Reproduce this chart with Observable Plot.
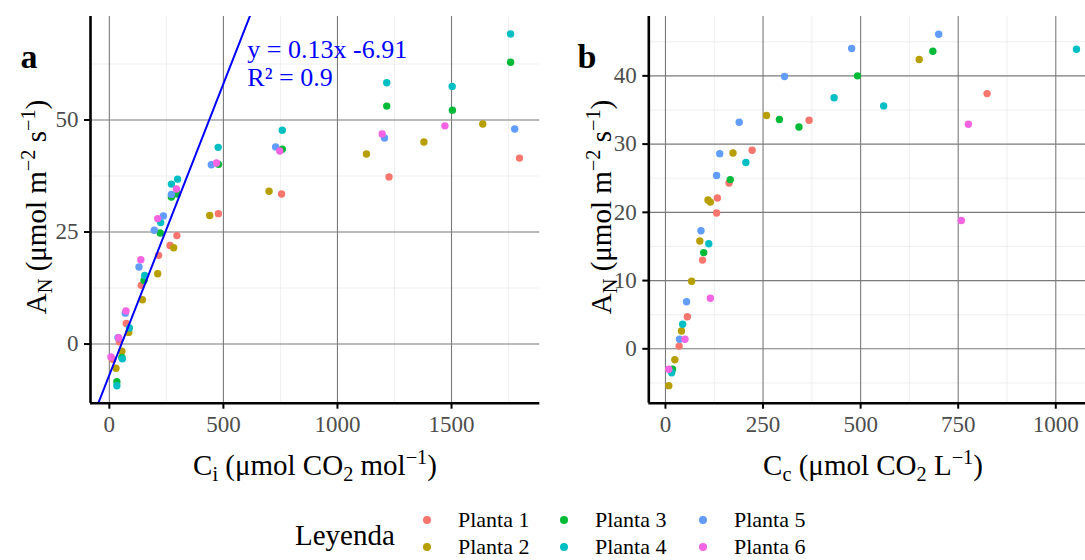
<!DOCTYPE html>
<html><head><meta charset="utf-8">
<script src="https://cdn.jsdelivr.net/npm/d3@7"></script>
<script src="https://cdn.jsdelivr.net/npm/@observablehq/plot@0.6"></script>
<style>
html,body{margin:0;padding:0;background:#fff;}
body{width:1085px;height:560px;overflow:hidden;position:relative;font-family:"Liberation Serif","Times New Roman",serif;color:#000;}
.abs{position:absolute;white-space:nowrap;line-height:1;}
.panel{position:absolute;top:0;}
g[aria-label$="tick label"], g[aria-label$="tick label"] text{fill:#4d4d4d;}
sub,sup{font-size:70%;line-height:0;}
</style>
</head><body>
<script>
// ---- data ----
const plants = ["Planta 1","Planta 2","Planta 3","Planta 4","Planta 5","Planta 6"];
const colors = ["#F8766D","#B79F00","#00BA38","#00BFC4","#619CFF","#F564E3"];

// Panel a: Ci vs AN
const aPlant = [
 1,1,1,1,1,1,1,1,1,1,1,
 2,2,2,2,2,2,2,2,2,2,2,
 3,3,3,3,3,3,3,3,3,3,3,
 4,4,4,4,4,4,4,4,4,4,4,4,
 5,5,5,5,5,5,5,5,5,5,
 6,6,6,6,6,6,6,6,6,6];
const aCi = [
 15,44,74,140,216,266,296,478,755,1226,1798,
 29,55,85,145,212,282,440,700,1127,1379,1637,
 33,55,152,223,272,298,479,758,1216,1504,1759,
 33,57,88,155,225,272,299,477,758,1216,1503,1759,
 38,70,130,197,237,272,447,729,1206,1777,
 7,41,73,138,212,294,470,747,1196,1471];
const aAN = [
 -3.4,0.5,4.6,13.1,19.8,22.0,24.2,29.1,33.5,37.3,41.5,
 -5.4,-1.6,2.6,9.9,15.7,21.5,28.7,34.1,42.4,45.1,49.1,
 -8.4,-3.0,14.2,24.8,32.8,33.5,40.1,43.5,53.1,52.2,62.9,
 -9.3,-3.3,3.6,15.3,27.1,35.7,36.8,43.9,47.7,58.3,57.5,69.2,
 1.4,6.9,17.2,25.4,28.6,33.4,40.0,44.0,46.0,48.0,
 -2.9,1.4,7.4,18.8,28.0,34.6,40.4,43.1,46.9,48.7];

// Panel b: Cc vs AN
const bPlant = [
 1,1,1,1,1,1,1,1,1,
 2,2,2,2,2,2,2,2,2,2,
 3,3,3,3,3,3,3,
 4,4,4,4,4,4,4,
 5,5,5,5,5,5,5,5,5,
 6,6,6,6,6];
const bCc = [
 35,56,95,131,133,163,222,368,824,
 8.5,24,41,67,88,109,115,173,259,650,
 18,98,166,292,342,492,685,
 16,44,111,206,432,559,1053,
 36,54,91,131,139,189,305,477,700,
 8.5,50,115,758,776];
const bAN = [
 0.4,4.7,13.0,19.9,22.1,24.3,29.1,33.5,37.4,
 -5.4,-1.6,2.6,9.9,15.8,21.8,21.5,28.7,34.2,42.4,
 -3.0,14.1,24.8,33.6,32.5,40.0,43.6,
 -3.5,3.6,15.4,27.3,36.8,35.6,43.9,
 1.4,6.9,17.3,25.4,28.6,33.2,39.9,44.0,46.1,
 -3.0,1.4,7.4,18.8,32.9];

// regression (panel a)
const regSlope = 0.13, regIntercept = -6.91;
const regLabels = ["y = 0.13x -6.91", "R\u00B2 = 0.9"];

// ticks
const aXTicks = [0,500,1000,1500], aXMinor = [250,750,1250,1750];
const aYTicks = [0,25,50], aYMinor = [12.5,37.5,62.5];
const bXTicks = [0,250,500,750,1000], bXMinor = [125,375,625,875];
const bYTicks = [0,10,20,30,40], bYMinor = [-5,5,15,25,35,45];

const aXDomain = [-82.6,1887], aYDomain = [-13.2,73.1];
const bXDomain = [-42.7,1112], bYDomain = [-7.97,48.7];

// ---- build ----
const aData = aPlant.map((p,i)=>({plant:plants[p-1], x:aCi[i], y:aAN[i]}));
const bData = bPlant.map((p,i)=>({plant:plants[p-1], x:bCc[i], y:bAN[i]}));

function panel({data, xDomain, yDomain, xTicks, xMinor, yTicks, yMinor, width, ml, mr, extra=[]}) {
  return Plot.plot({
    width, height: 440,
    marginLeft: ml, marginRight: mr, marginTop: 16, marginBottom: 37.3,
    style: {fontFamily: '"Liberation Serif","Times New Roman",serif', fontSize: "23px", background: "transparent", overflow: "visible"},
    x: {domain: xDomain, label: null},
    y: {domain: yDomain, label: null},
    color: {domain: plants, range: colors},
    marks: [
      Plot.ruleX(xMinor, {stroke: "#ebebeb", strokeWidth: 0.8}),
      Plot.ruleY(yMinor, {stroke: "#ebebeb", strokeWidth: 0.8}),
      Plot.ruleX(xTicks, {stroke: "#7a7a7a", strokeWidth: 1.1}),
      Plot.ruleY(yTicks, {stroke: "#7a7a7a", strokeWidth: 1.1}),
      Plot.dot(data, {x: "x", y: "y", fill: "plant", r: 3.7, stroke: "none"}),
      ...extra,
      Plot.ruleX([xDomain[0]], {stroke: "black", strokeWidth: 2.6}),
      Plot.ruleY([yDomain[0]], {stroke: "black", strokeWidth: 2.6}),
      Plot.axisX({ticks: xTicks, tickSize: 6, tickPadding: 6, stroke: "black", strokeWidth: 2, label: null, tickFormat: d => String(d)}),
      Plot.axisY({ticks: yTicks, tickSize: 6, tickPadding: 6, stroke: "black", strokeWidth: 2, label: null, tickFormat: d => String(d)})
    ]
  });
}

const regPts = aXDomain.map(x => ({x, y: regSlope*x + regIntercept}));
const pa = panel({data: aData, xDomain: aXDomain, yDomain: aYDomain, xTicks: aXTicks, xMinor: aXMinor, yTicks: aYTicks, yMinor: aYMinor,
  width: 545, ml: 90, mr: 5.7,
  extra: [
    Plot.line(regPts, {x: "x", y: "y", stroke: "#0000ff", strokeWidth: 2, clip: true}),
    Plot.text([0,1], {x: () => 605, y: i => i === 0 ? 65.7 : 59.4, text: i => regLabels[i], fill: "#0000ff", fontSize: 26, textAnchor: "start", lineAnchor: "middle"})
  ]});
pa.classList.add("panel"); pa.style.left = "0px";
document.body.appendChild(pa);

const pb = panel({data: bData, xDomain: bXDomain, yDomain: bYDomain, xTicks: bXTicks, xMinor: bXMinor, yTicks: bYTicks, yMinor: bYMinor,
  width: 545, ml: 88.3, mr: 6});
pb.classList.add("panel"); pb.style.left = "560px";
document.body.appendChild(pb);

// ---- text overlays ----
function addText(html, left, top, css) {
  const d = document.createElement("div");
  d.className = "abs";
  d.innerHTML = html;
  d.style.left = left + "px"; d.style.top = top + "px";
  Object.assign(d.style, css || {});
  document.body.appendChild(d);
  return d;
}
const ylab = 'A<sub>N</sub> (μmol m<sup>−2</sup> s<sup>−1</sup>)';
addText(ylab, 36, 207, {fontSize: "29px", transform: "translate(-50%,-50%) rotate(-90deg)"});
addText(ylab, 601, 207, {fontSize: "29px", transform: "translate(-50%,-50%) rotate(-90deg)"});
addText('C<sub>i</sub> (μmol CO<sub>2</sub> mol<sup>−1</sup>)', 315, 465, {fontSize: "29px", transform: "translate(-50%,-50%)"});
addText('C<sub>c</sub> (μmol CO<sub>2</sub> L<sup>−1</sup>)', 873, 465, {fontSize: "29px", transform: "translate(-50%,-50%)"});
addText('a', 29, 57, {fontSize: "34px", fontWeight: "bold", transform: "translate(-50%,-50%)"});
addText('b', 587, 57, {fontSize: "34px", fontWeight: "bold", transform: "translate(-50%,-50%)"});

// legend
addText('Leyenda', 295, 535, {fontSize: "29px", transform: "translateY(-50%)"});
const colX = [427, 564, 703], rowY = [520, 547];
plants.forEach((p, i) => {
  const c = Math.floor(i/2), r = i % 2;
  const dot = document.createElement("div");
  dot.className = "abs";
  Object.assign(dot.style, {left: (colX[c]-4)+"px", top: (rowY[r]-4)+"px", width: "8px", height: "8px", borderRadius: "50%", background: colors[i]});
  document.body.appendChild(dot);
  addText(p, colX[c] + 31, rowY[r], {fontSize: "22px", transform: "translateY(-50%)"});
});
</script>
</body></html>
